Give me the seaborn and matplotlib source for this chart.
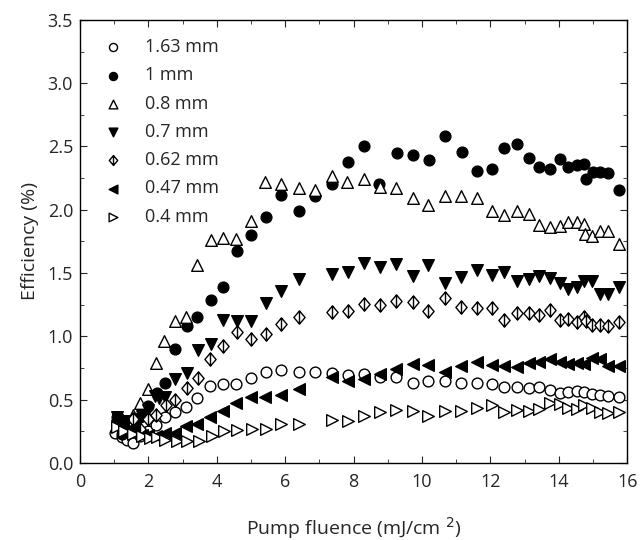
import numpy as np
import matplotlib
matplotlib.use("Agg")
import matplotlib.pyplot as plt
from matplotlib.path import Path
from matplotlib.ticker import MultipleLocator, FormatStrFormatter
import seaborn as sns

# data
x_163 = [1.02, 1.22, 1.37, 1.56, 1.75, 2.0, 2.22, 2.49, 2.78, 3.10, 3.43, 3.80, 4.19, 4.56, 4.99, 5.44,
         5.88, 6.39, 6.87, 7.36, 7.85, 8.31, 8.77, 9.24, 9.73, 10.19, 10.68, 11.14, 11.6, 12.04, 12.4,
         12.77, 13.12, 13.43, 13.75, 14.04, 14.28, 14.53, 14.74, 14.98, 15.21, 15.45, 15.75]
y_163 = [0.235, 0.20, 0.18, 0.16, 0.21, 0.25, 0.30, 0.365, 0.405, 0.44, 0.51, 0.61, 0.62, 0.62, 0.67, 0.72,
         0.73, 0.72, 0.72, 0.71, 0.69, 0.70, 0.68, 0.68, 0.63, 0.65, 0.65, 0.63, 0.63, 0.625, 0.60,
         0.60, 0.59, 0.60, 0.575, 0.55, 0.56, 0.57, 0.56, 0.545, 0.535, 0.53, 0.52]

x_1 = [1.07, 1.22, 1.56, 1.75, 2.0, 2.24, 2.49, 2.78, 3.12, 3.43, 3.82, 4.19, 4.58, 4.99, 5.44, 5.88,
       6.39, 6.87, 7.36, 7.85, 8.31, 8.75, 9.26, 9.73, 10.2, 10.68, 11.16, 11.6, 12.04, 12.4, 12.77,
       13.12, 13.43, 13.75, 14.04, 14.26, 14.53, 14.74, 14.79, 15.01, 15.21, 15.45, 15.75]
y_1 = [0.36, 0.23, 0.30, 0.36, 0.445, 0.55, 0.63, 0.90, 1.08, 1.15, 1.29, 1.39, 1.675, 1.80, 1.94, 2.12,
       1.99, 2.11, 2.20, 2.38, 2.50, 2.20, 2.45, 2.43, 2.39, 2.58, 2.46, 2.31, 2.32, 2.49, 2.52,
       2.41, 2.34, 2.32, 2.40, 2.335, 2.35, 2.36, 2.24, 2.30, 2.30, 2.29, 2.16]

x_08 = [1.07, 1.27, 1.56, 1.74, 1.98, 2.22, 2.46, 2.78, 3.10, 3.43, 3.82, 4.19, 4.56, 4.99, 5.41, 5.88,
        6.39, 6.87, 7.36, 7.80, 8.29, 8.77, 9.24, 9.73, 10.19, 10.68, 11.14, 11.6, 12.04, 12.4, 12.77,
        13.12, 13.43, 13.75, 14.04, 14.28, 14.53, 14.74, 14.77, 14.98, 15.21, 15.45, 15.75]
y_08 = [0.32, 0.28, 0.38, 0.47, 0.585, 0.79, 0.96, 1.12, 1.15, 1.56, 1.76, 1.78, 1.77, 1.91, 2.22, 2.20,
        2.175, 2.16, 2.27, 2.22, 2.24, 2.18, 2.175, 2.09, 2.04, 2.11, 2.11, 2.09, 1.99, 1.96, 1.99,
        1.97, 1.88, 1.86, 1.87, 1.905, 1.90, 1.89, 1.81, 1.79, 1.83, 1.835, 1.73]

x_07 = [1.07, 1.27, 1.56, 1.80, 2.0, 2.18, 2.30, 2.49, 2.78, 3.12, 3.46, 3.82, 4.19, 4.58, 4.99, 5.44,
        5.88, 6.39, 7.36, 7.85, 8.31, 8.77, 9.24, 9.73, 10.19, 10.68, 11.14, 11.6, 12.04, 12.4, 12.77,
        13.12, 13.43, 13.75, 14.04, 14.28, 14.53, 14.74, 14.98, 15.21, 15.45, 15.75]
y_07 = [0.36, 0.33, 0.33, 0.37, 0.42, 0.53, 0.51, 0.52, 0.66, 0.71, 0.89, 0.94, 1.13, 1.12, 1.12, 1.26,
        1.36, 1.45, 1.49, 1.51, 1.58, 1.545, 1.57, 1.48, 1.56, 1.42, 1.47, 1.52, 1.485, 1.51, 1.44,
        1.45, 1.48, 1.46, 1.42, 1.37, 1.39, 1.44, 1.44, 1.335, 1.335, 1.39]

x_062 = [1.12, 1.35, 1.56, 1.75, 2.0, 2.22, 2.52, 2.78, 3.12, 3.46, 3.80, 4.19, 4.58, 4.99, 5.44, 5.88,
         6.39, 7.36, 7.85, 8.31, 8.77, 9.24, 9.73, 10.19, 10.68, 11.14, 11.6, 12.04, 12.4, 12.77, 13.12,
         13.43, 13.75, 14.04, 14.28, 14.53, 14.74, 14.79, 14.98, 15.21, 15.45, 15.75]
y_062 = [0.30, 0.31, 0.345, 0.27, 0.345, 0.38, 0.46, 0.50, 0.59, 0.67, 0.82, 0.92, 1.03, 0.98, 1.02, 1.095,
         1.155, 1.195, 1.20, 1.255, 1.25, 1.28, 1.27, 1.20, 1.30, 1.23, 1.22, 1.22, 1.13, 1.18, 1.18,
         1.17, 1.21, 1.13, 1.135, 1.11, 1.15, 1.12, 1.09, 1.09, 1.08, 1.115]

x_047 = [1.07, 1.27, 1.56, 1.80, 2.0, 2.22, 2.49, 2.78, 3.10, 3.43, 3.80, 4.19, 4.56, 4.99, 5.41, 5.88,
         6.39, 7.36, 7.85, 8.31, 8.77, 9.24, 9.73, 10.19, 10.68, 11.14, 11.6, 12.04, 12.4, 12.77, 13.12,
         13.43, 13.75, 14.04, 14.28, 14.53, 14.74, 14.98, 15.21, 15.45, 15.75]
y_047 = [0.34, 0.31, 0.26, 0.22, 0.22, 0.21, 0.235, 0.235, 0.29, 0.31, 0.365, 0.41, 0.47, 0.52, 0.52, 0.535,
         0.58, 0.68, 0.65, 0.66, 0.70, 0.74, 0.78, 0.775, 0.72, 0.765, 0.80, 0.775, 0.765, 0.755, 0.785,
         0.80, 0.82, 0.80, 0.78, 0.785, 0.78, 0.825, 0.82, 0.765, 0.765]

x_04 = [1.07, 1.30, 1.56, 1.80, 2.05, 2.25, 2.49, 2.83, 3.12, 3.49, 3.85, 4.21, 4.60, 5.02, 5.43, 5.88,
        6.39, 7.36, 7.85, 8.31, 8.77, 9.24, 9.73, 10.19, 10.68, 11.14, 11.6, 12.04, 12.4, 12.77, 13.12,
        13.43, 13.75, 14.04, 14.28, 14.53, 14.74, 14.98, 15.21, 15.45, 15.75]
y_04 = [0.28, 0.25, 0.23, 0.21, 0.195, 0.20, 0.18, 0.17, 0.17, 0.17, 0.21, 0.25, 0.26, 0.265, 0.265, 0.31,
        0.31, 0.335, 0.33, 0.37, 0.40, 0.42, 0.41, 0.37, 0.41, 0.41, 0.43, 0.46, 0.405, 0.42, 0.41,
        0.425, 0.475, 0.465, 0.43, 0.425, 0.46, 0.43, 0.405, 0.39, 0.405]

sns.set_style("ticks")
plt.rcParams['font.family'] = ['Open Sans', 'DejaVu Sans']

# diamond with a vertical bar inside
diamond_bar = Path(
    [(0, 1), (0.85, 0), (0, -1), (-0.85, 0), (0, 1), (0, 1), (0, -1)],
    [Path.MOVETO, Path.LINETO, Path.LINETO, Path.LINETO, Path.CLOSEPOLY, Path.MOVETO, Path.LINETO])

fig, ax = plt.subplots(figsize=(6.4, 5.4), dpi=100)
fig.subplots_adjust(left=0.125, right=0.98, top=0.963, bottom=0.143)

series = [
    (x_163, y_163, 'o', 'white', '1.63 mm', 60),
    (x_1, y_1, 'o', 'black', '1 mm', 60),
    (x_08, y_08, '^', 'white', '0.8 mm', 70),
    (x_07, y_07, 'v', 'black', '0.7 mm', 70),
    (x_062, y_062, diamond_bar, 'white', '0.62 mm', 90),
    (x_047, y_047, '<', 'black', '0.47 mm', 70),
    (x_04, y_04, '>', 'white', '0.4 mm', 70),
]
for xs, ys, m, fc, lab, size in series:
    sns.scatterplot(x=xs, y=ys, marker=m, s=size, color=fc, edgecolor='black',
                    linewidth=1.0, label=lab, ax=ax)

ax.set_xlim(0, 16)
ax.set_ylim(0, 3.5)
ax.xaxis.set_major_locator(MultipleLocator(2))
ax.xaxis.set_minor_locator(MultipleLocator(1))
ax.yaxis.set_major_locator(MultipleLocator(0.5))
ax.yaxis.set_minor_locator(MultipleLocator(0.25))
ax.yaxis.set_major_formatter(FormatStrFormatter('%.1f'))
ax.tick_params(which='both', direction='in', top=True, right=True, labelsize=13)
ax.tick_params(axis='x', which='major', pad=7)
ax.tick_params(axis='y', which='major', pad=5)
ax.tick_params(which='major', length=5)
ax.tick_params(which='minor', length=3)
for sp in ax.spines.values():
    sp.set_linewidth(1.0)
    sp.set_color('black')

ax.set_xlabel('Pump fluence (mJ/cm $^{2}$)', fontsize=14, labelpad=18)
ax.set_ylabel('Efficiency (%)', fontsize=14, labelpad=6)

leg = ax.legend(loc='upper left', frameon=False, fontsize=13, handletextpad=0.9,
                labelspacing=0.57, borderaxespad=0.6, handlelength=1.7, markerscale=0.75)

fig.savefig('out.png', dpi=100)
